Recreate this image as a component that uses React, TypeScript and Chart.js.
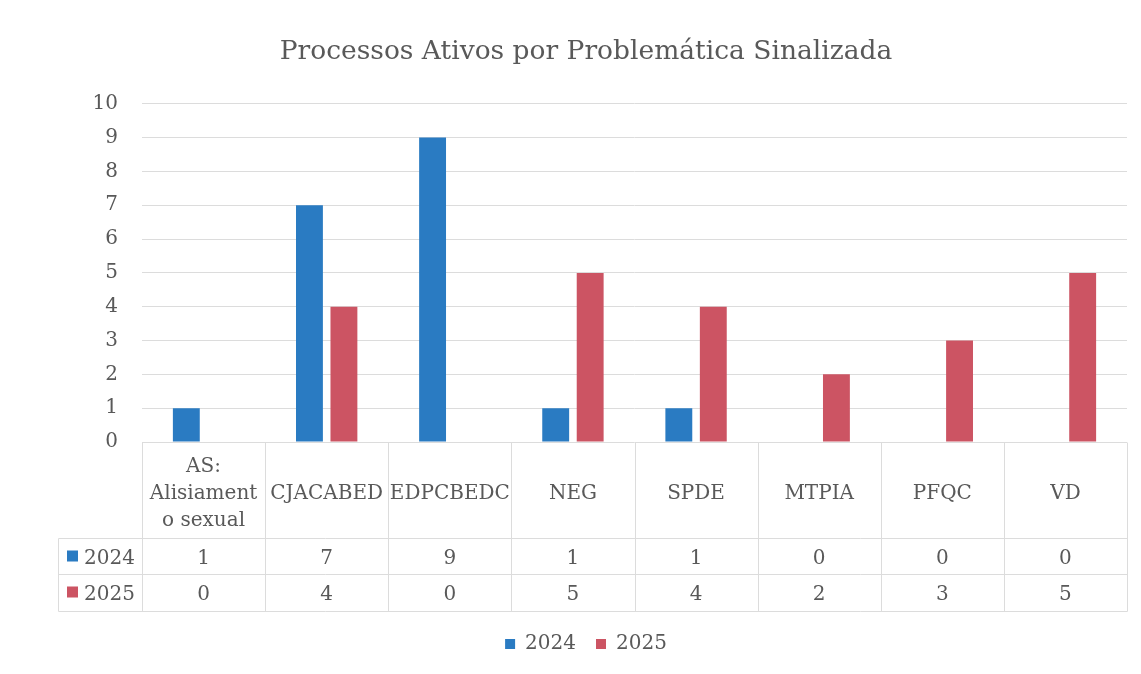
import { useEffect, useRef } from "react";
import { Chart, registerables } from "chart.js";

Chart.register(...registerables);

const chartTitle = "Processos Ativos por Problemática Sinalizada";
const categories: string[][] = [
  ["AS:", "Alisiament", "o sexual"],
  ["CJACABED"],
  ["EDPCBEDC"],
  ["NEG"],
  ["SPDE"],
  ["MTPIA"],
  ["PFQC"],
  ["VD"],
];
const seriesNames = ["2024", "2025"];
const values2024 = [1, 7, 9, 1, 1, 0, 0, 0];
const values2025 = [0, 4, 0, 5, 4, 2, 3, 5];
const yMin = 0;
const yMax = 10;
const yStep = 1;

const FONT = "'DejaVu Serif', 'Liberation Serif', serif";
const TEXT = "#595959";
const GRID = "#dcdcdc";
const BLUE = "#2a7bc2";
const RED = "#cc5463";
const PAD_LEFT = 45;

const dataTablePlugin = {
  id: "dataTable",
  afterDraw(chart: any) {
    const { ctx, chartArea, scales } = chart;
    const x = scales.x;
    const labels = chart.data.labels as string[][];
    const n = labels.length;
    const top = chartArea.bottom;
    const catBottom = top + 96;
    const row1Bottom = catBottom + 36;
    const row2Bottom = row1Bottom + 37;
    const half = (x.getPixelForValue(1) - x.getPixelForValue(0)) / 2;
    const left = chartArea.left;
    const right = chartArea.right;
    const keyLeft = left - 84;
    const px = (v: number) => Math.round(v) + 0.5;

    ctx.save();
    ctx.strokeStyle = GRID;
    ctx.lineWidth = 1;
    const line = (x1: number, y1: number, x2: number, y2: number) => {
      ctx.beginPath();
      ctx.moveTo(px(x1), px(y1));
      ctx.lineTo(px(x2), px(y2));
      ctx.stroke();
    };
    line(keyLeft, catBottom, right, catBottom);
    line(keyLeft, row1Bottom, right, row1Bottom);
    line(keyLeft, row2Bottom, right, row2Bottom);
    line(keyLeft, catBottom, keyLeft, row2Bottom);
    for (let i = 0; i < n; i++) {
      line(x.getPixelForValue(i) - half, top, x.getPixelForValue(i) - half, row2Bottom);
    }
    line(x.getPixelForValue(n - 1) + half, top, x.getPixelForValue(n - 1) + half, row2Bottom);

    ctx.fillStyle = TEXT;
    ctx.font = `20px ${FONT}`;
    ctx.textAlign = "center";
    ctx.textBaseline = "alphabetic";
    const catCenter = top + 49;
    const lh = 27;
    for (let i = 0; i < n; i++) {
      const lines = labels[i];
      const cx = x.getPixelForValue(i);
      lines.forEach((t, k) => {
        const y = catCenter + (k - (lines.length - 1) / 2) * lh + 7.5;
        ctx.fillText(t, cx, y);
      });
    }

    const rowCenters = [top + 114, top + 150];
    chart.data.datasets.forEach((ds: any, d: number) => {
      const yc = rowCenters[d];
      ctx.fillStyle = ds.backgroundColor;
      ctx.fillRect(keyLeft + 9, yc - 5.5, 11, 11);
      ctx.fillStyle = TEXT;
      ctx.textAlign = "left";
      ctx.fillText(ds.label, keyLeft + 26, yc + 7.5);
      ctx.textAlign = "center";
      ds.data.forEach((v: number, i: number) => {
        ctx.fillText(String(v), x.getPixelForValue(i), yc + 7.5);
      });
    });
    ctx.restore();
  },
};

export default function App() {
  const ref = useRef<HTMLCanvasElement>(null);
  useEffect(() => {
    if (!ref.current) return;
    const chart = new Chart(ref.current, {
      type: "bar",
      data: {
        labels: categories as any,
        datasets: [
          { label: seriesNames[0], data: values2024, backgroundColor: BLUE },
          { label: seriesNames[1], data: values2025, backgroundColor: RED },
        ],
      },
      options: {
        animation: false,
        responsive: true,
        maintainAspectRatio: false,
        datasets: { bar: { barPercentage: 0.78, categoryPercentage: 0.56 } },
        layout: { padding: { left: PAD_LEFT, right: 14, top: 0, bottom: 10 } },
        plugins: {
          title: {
            display: true,
            text: chartTitle,
            color: TEXT,
            font: { family: FONT, size: 26.5, weight: "normal" },
            padding: { top: 36, bottom: 36 },
          },
          legend: {
            position: "bottom",
            labels: {
              color: TEXT,
              font: { family: FONT, size: 20 },
              boxWidth: 10,
              boxHeight: 10,
              padding: 20,
            },
          },
          tooltip: { enabled: false },
        },
        scales: {
          x: {
            grid: { display: false },
            border: { display: false },
            ticks: { display: false },
            afterFit: (axis: any) => {
              axis.height = 172;
            },
          },
          y: {
            min: yMin,
            max: yMax,
            grid: { color: GRID, drawTicks: false },
            border: { display: false },
            ticks: {
              stepSize: yStep,
              color: TEXT,
              font: { family: FONT, size: 20 },
              padding: 24,
            },
            afterFit: (axis: any) => {
              axis.width = 142 - PAD_LEFT;
            },
          },
        },
      },
      plugins: [dataTablePlugin],
    });
    return () => chart.destroy();
  }, []);
  return (
    <div style={{ position: "fixed", left: 0, top: 0, width: 1141, height: 674, background: "#fff" }}>
      <canvas ref={ref} />
    </div>
  );
}
